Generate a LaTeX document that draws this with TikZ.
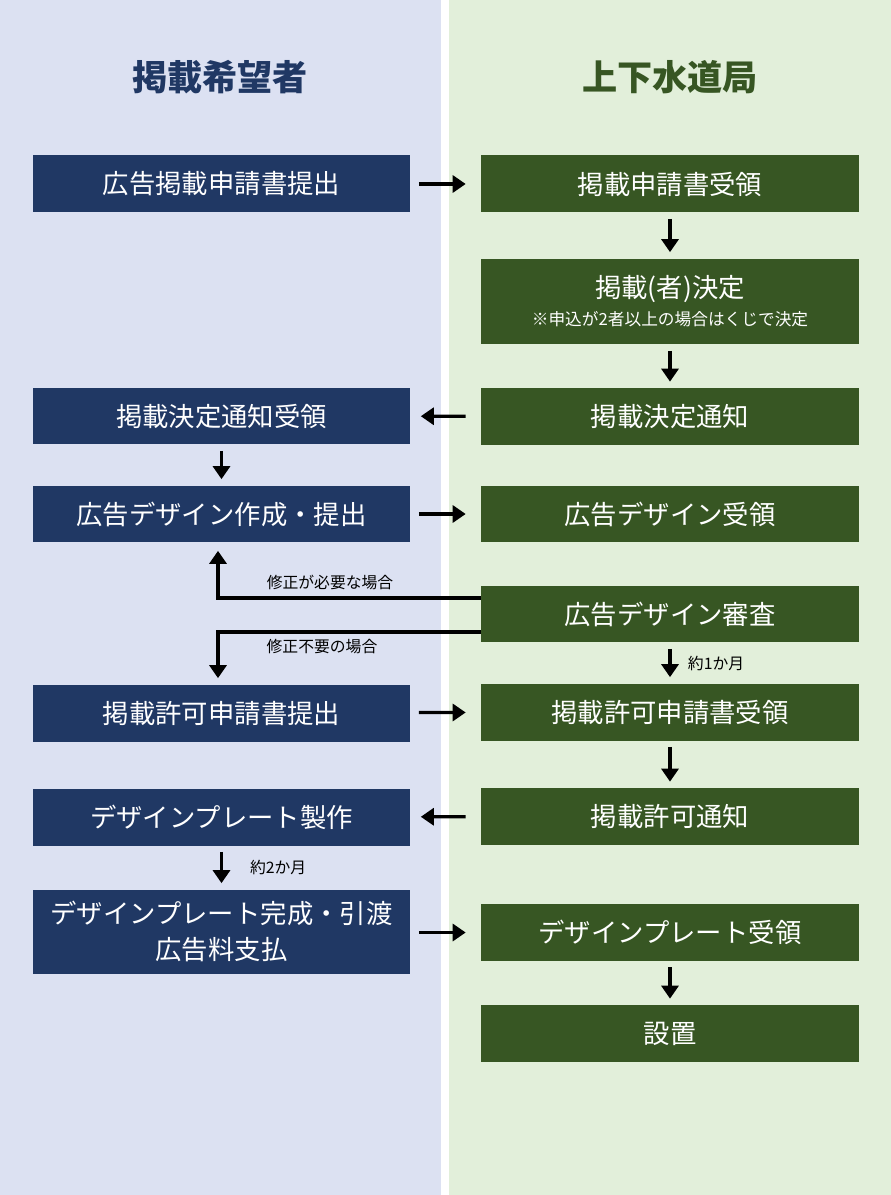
\documentclass[tikz,border=0pt]{standalone}
\usepackage{fontspec}
\setmainfont{Noto Sans CJK JP}
\usetikzlibrary{arrows.meta}
\definecolor{navy}{HTML}{203864}
\definecolor{forest}{HTML}{375623}
\definecolor{bgblue}{HTML}{DCE1F2}
\definecolor{bggreen}{HTML}{E2EFDA}
\tikzset{
  box/.style={minimum width=7.56cm,minimum height=1.14cm,inner sep=0pt,text=white,font=\fontsize{15}{18}\selectfont,align=center},
  lbox/.style={box,fill=navy},
  rbox/.style={box,fill=forest},
  flow/.style={line width=1.8pt,-{Triangle[length=2.6mm,width=3.4mm]}},
  hflow/.style={flow,shorten <=0.16cm,shorten >=0.3cm},
  vflow/.style={flow,shorten <=0.12cm,shorten >=0.12cm},
  note/.style={font=\fontsize{9}{11}\selectfont}
}
\begin{document}
\begin{tikzpicture}[x=0.02cm,y=-0.02cm]
\useasboundingbox (0,0) rectangle (891,1195);
\fill[bgblue] (0,0) rectangle (441,1195);
\fill[bggreen] (449,0) rectangle (891,1195);
\node[text=navy,font=\fontsize{20}{24}\selectfont\bfseries] (ltitle) at (220,77) {掲載希望者};
\node[text=forest,font=\fontsize{20}{24}\selectfont\bfseries] (rtitle) at (670,77) {上下水道局};
% left column
\node[lbox] (l1) at (221.5,184) {広告掲載申請書提出};
\node[lbox] (l2) at (221.5,416) {掲載決定通知受領};
\node[lbox] (l3) at (221.5,514) {広告デザイン作成・提出};
\node[lbox] (l4) at (221.5,713) {掲載許可申請書提出};
\node[lbox] (l5) at (221.5,817) {デザインプレート製作};
\node[lbox,minimum height=1.68cm,font=\fontsize{15}{20}\selectfont] (l6) at (221.5,931.5) {デザインプレート完成・引渡\\広告料支払};
% right column
\node[rbox] (r1) at (670,184) {掲載申請書受領};
\node[rbox,minimum height=1.72cm] (r2) at (670,301.5) {掲載(者)決定\\[-2pt]{\fontsize{9.5}{11}\selectfont ※申込が2者以上の場合はくじで決定}};
\node[rbox] (r3) at (670,416.5) {掲載決定通知};
\node[rbox] (r4) at (670,514) {広告デザイン受領};
\node[rbox] (r5) at (670,614) {広告デザイン審査};
\node[rbox] (r6) at (670,712) {掲載許可申請書受領};
\node[rbox] (r7) at (670,816.5) {掲載許可通知};
\node[rbox] (r8) at (670,932.5) {デザインプレート受領};
\node[rbox] (r9) at (670,1033.5) {設置};
% arrows
\draw[hflow] (l1) -- (r1);
\draw[vflow] (r1) -- (r2);
\draw[vflow] (r2) -- (r3);
\draw[hflow,shorten <=0.3cm,shorten >=0.2cm] (r3) -- (l2);
\draw[vflow] (l2) -- (l3);
\draw[hflow] (l3) -- (r4);
\coordinate (fixa) at (481,598);
\coordinate (fixb) at (218,598);
\coordinate (oka) at (481,632);
\coordinate (okb) at (218,632);
\draw[line width=1.8pt,-{Triangle[length=2.6mm,width=3.4mm]},shorten >=0.16cm] (fixa) -- (fixb) -- (fixb |- l3.south);
\draw[line width=1.8pt,-{Triangle[length=2.6mm,width=3.4mm]},shorten >=0.12cm] (oka) -- (okb) -- (okb |- l4.north);
\node[note] (fixlbl) at (330,582) {修正が必要な場合};
\node[note] (oklbl) at (322,647) {修正不要の場合};
\draw[vflow] (r5) -- (r6) node[midway,right=6pt,note] {約1か月};
\draw[hflow] (l4) -- (r6);
\draw[vflow] (r6) -- (r7);
\draw[hflow,shorten <=0.3cm,shorten >=0.2cm] (r7) -- (l5);
\draw[vflow] (l5) -- (l6) node[midway,right=12pt,note] {約2か月};
\draw[hflow] (l6.east |- r8) -- (r8);
\draw[vflow] (r8) -- (r9);
\end{tikzpicture}
\end{document}
